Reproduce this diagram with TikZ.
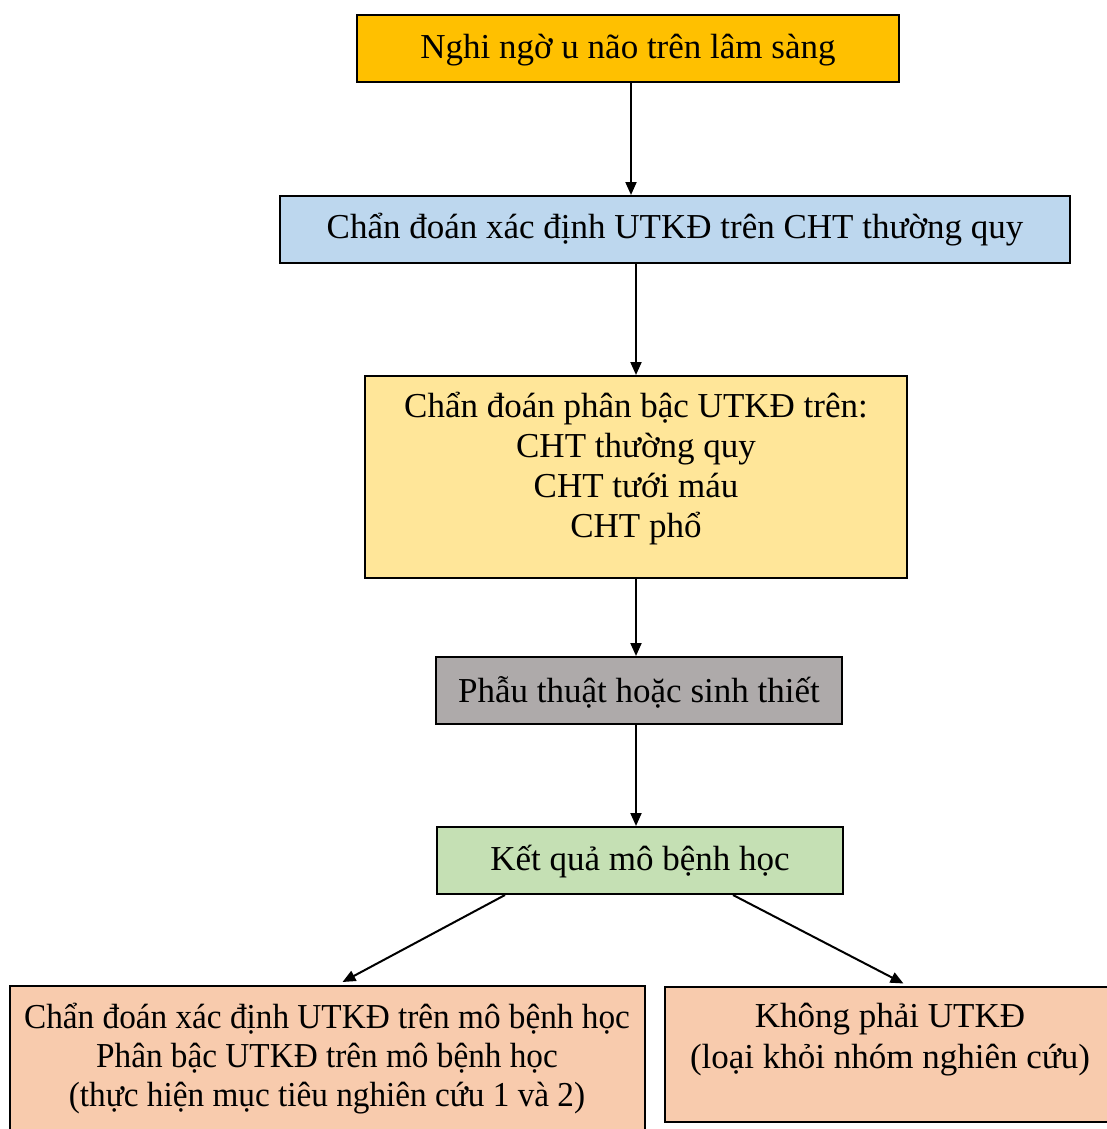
\documentclass[tikz,border=0pt]{standalone}
\usepackage{fontspec}
\setmainfont{Liberation Serif}
\newfontfamily\narrowfont[FakeStretch=0.95]{Liberation Serif}
\usetikzlibrary{arrows.meta,calc}
\definecolor{cgold}{HTML}{FFC000}
\definecolor{cblue}{HTML}{BDD7EE}
\definecolor{cyel}{HTML}{FFE699}
\definecolor{cgray}{HTML}{AEAAAA}
\definecolor{cgreen}{HTML}{C5E0B4}
\definecolor{cpeach}{HTML}{F8CBAD}
\begin{document}
\begin{tikzpicture}[x=1pt,y=-1pt,
  box/.style={draw=black,line width=2pt,rectangle,inner sep=0pt,
    font=\fontsize{35pt}{40pt}\selectfont,align=center},
  lbl/.style={inner sep=0pt,align=center,font=\fontsize{35pt}{40pt}\selectfont},
  lblb/.style={inner sep=0pt,align=center,font=\narrowfont\fontsize{35pt}{39pt}\selectfont},
  lblc/.style={inner sep=0pt,align=center,font=\fontsize{35pt}{41pt}\selectfont},
  arr/.style={line width=2pt,-{Triangle[length=13pt,width=11pt]}}]
\useasboundingbox (0,0) rectangle (1106,1129);
\node[box,fill=cgold,minimum width=542pt,minimum height=67pt] (b1) at (628,48.5) {};
\node[lbl] (t1) at (628,50) {Nghi ngờ u não trên lâm sàng};
\node[box,fill=cblue,minimum width=790pt,minimum height=67pt] (b2) at (675,229.5) {};
\node[lbl] (t2) at (675,230) {Chẩn đoán xác định UTKĐ trên CHT thường quy};
\node[box,fill=cyel,minimum width=542pt,minimum height=202pt] (b3) at (636,477) {};
\node[lbl] (t3) at (636,469) {Chẩn đoán phân bậc UTKĐ trên:\\CHT thường quy\\CHT tưới máu\\CHT phổ};
\node[box,fill=cgray,minimum width=406pt,minimum height=67pt] (b4) at (639,690.5) {};
\node[lbl] (t4) at (639,692) {Phẫu thuật hoặc sinh thiết};
\node[box,fill=cgreen,minimum width=406pt,minimum height=67pt] (b5) at (640,860.5) {};
\node[lbl] (t5) at (640,862) {Kết quả mô bệnh học};
\node[box,fill=cpeach,minimum width=635pt,minimum height=150pt] (b6) at (327.5,1061) {};
\node[lblb] (t6) at (327,1059) {Chẩn đoán xác định UTKĐ trên mô bệnh học\\Phân bậc UTKĐ trên mô bệnh học\\(thực hiện mục tiêu nghiên cứu 1 và 2)};
\node[box,fill=cpeach,minimum width=449pt,minimum height=135pt] (b7) at (889.5,1054) {};
\node[lblc] (t7) at (890,1040) {Không phải UTKĐ\\(loại khỏi nhóm nghiên cứu)};
\draw[arr] ($(b1.south)+(3,0)$) -- ($(b2.north)+(-44,0)$);
\draw[arr] ($(b2.south)+(-39,0)$) -- (b3.north);
\draw[arr] (b3.south) -- ($(b4.north)+(-3,0)$);
\draw[arr] ($(b4.south)+(-3,0)$) -- ($(b5.north)+(-4,0)$);
\coordinate (s1) at ($(b5.south)+(-135,0)$);
\coordinate (e1) at ($(b6.north)+(15,-3)$);
\coordinate (s2) at ($(b5.south)+(93,0)$);
\coordinate (e2) at ($(b7.north)+(14,-2)$);
\draw[arr] (s1) -- (e1);
\draw[arr] (s2) -- (e2);
\end{tikzpicture}
\end{document}
